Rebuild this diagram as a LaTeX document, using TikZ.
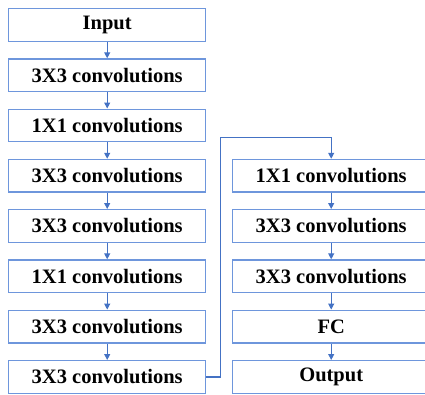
\documentclass[tikz,border=0pt]{standalone}
\usepackage{fontspec}
\setmainfont{Liberation Serif}
\usetikzlibrary{arrows.meta}
\definecolor{boxblue}{RGB}{110,150,220}
\definecolor{linkblue}{RGB}{68,114,196}
\tikzset{
  layer/.style={draw=boxblue, line width=1.4pt, fill=white, rectangle,
    minimum width=197pt, minimum height=32.5pt, inner sep=0pt, anchor=north west,
    font=\bfseries\fontsize{20.5}{24}\selectfont},
  link/.style={draw=linkblue, line width=1.1pt,
    -{Triangle[length=6pt,width=6pt]}}
}
\begin{document}
\begin{tikzpicture}[x=1pt,y=1pt]
\useasboundingbox (0,0) rectangle (425,-394);
\clip (0,0) rectangle (425,-394);
% left column
\node[layer] (l1) at (8,-8) {Input};
\node[layer] (l2) at (8,-58.3) {3X3 convolutions};
\node[layer] (l3) at (8,-108.5) {1X1 convolutions};
\node[layer] (l4) at (8,-158.8) {3X3 convolutions};
\node[layer] (l5) at (8,-209) {3X3 convolutions};
\node[layer] (l6) at (8,-259.3) {1X1 convolutions};
\node[layer] (l7) at (8,-309.6) {3X3 convolutions};
\node[layer] (l8) at (8,-360) {3X3 convolutions};
% right column
\node[layer] (r1) at (232,-158.8) {1X1 convolutions};
\node[layer] (r2) at (232,-209) {3X3 convolutions};
\node[layer] (r3) at (232,-259.3) {3X3 convolutions};
\node[layer] (r4) at (232,-309.6) {FC};
\node[layer] (r5) at (232,-360) {Output};
% vertical links
\foreach \a/\b in {l1/l2,l2/l3,l3/l4,l4/l5,l5/l6,l6/l7,l7/l8,r1/r2,r2/r3,r3/r4,r4/r5}
  \draw[link] (\a.south) -- (\b.north);
% hand-over from the left column to the right one
\coordinate (c1) at ([xshift=14pt]l8.east);
\coordinate (c2) at (c1 |- 0,-137.5);
\draw[link] (l8.east) -- (c1) -- (c2) -- (c2 -| r1.north) -- (r1.north);
\end{tikzpicture}
\end{document}
